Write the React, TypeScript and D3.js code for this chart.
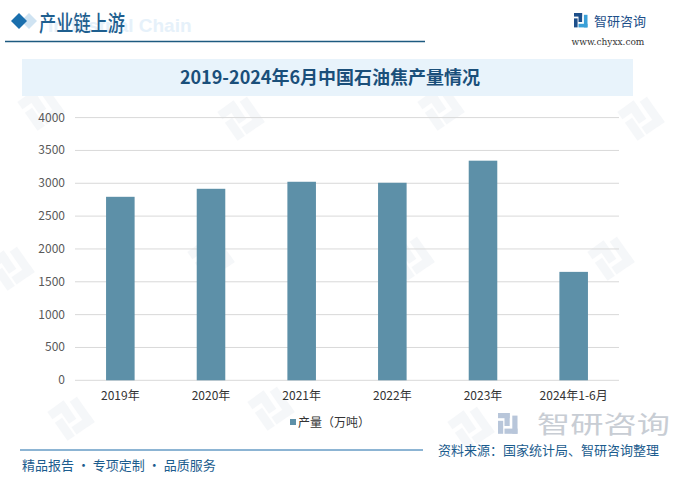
import React from "react";
import * as d3 from "d3";

const categories = ["2019年", "2020年", "2021年", "2022年", "2023年", "2024年1-6月"];
const production = [2794, 2916, 3023, 3008, 3344, 1651];
const yTicks = [0, 500, 1000, 1500, 2000, 2500, 3000, 3500, 4000];
const seriesName = "产量（万吨）";
const titleText = "2019-2024年6月中国石油焦产量情况";
const headerText = "产业链上游";
const sourceText = "资料来源：国家统计局、智研咨询整理";
const sloganText = "精品报告 · 专项定制 · 品质服务";

const W = 690;
const H = 479;
const BAR = "#5d90a8";
const BLUE = "#1b5c8e";
const FONT = "'Noto Sans CJK SC', 'Noto Sans', sans-serif";

function Logo({ x, y, s, color1, color2 }: { x: number; y: number; s: number; color1: string; color2: string }) {
  return (
    <g transform={`translate(${x},${y}) scale(${s})`}>
      <rect x={0} y={0} width={9} height={4} fill={color1} />
      <rect x={5} y={0} width={4} height={10} fill={color1} />
      <rect x={0} y={6} width={4} height={10} fill={color1} />
      <rect x={11} y={2} width={4} height={14} fill={color2} />
      <rect x={5} y={12} width={10} height={4} fill={color2} />
    </g>
  );
}

export default function App() {
  const margin = { left: 75, right: 619, top: 117.6, bottom: 380.3 };
  const x = d3.scaleBand<string>().domain(categories).range([margin.left, margin.right]).padding(0);
  const y = d3.scaleLinear().domain([0, 4000]).range([margin.bottom, margin.top]);
  const bw = x.bandwidth() * 0.315;

  const watermarks = [
    [30, 120], [230, 130], [430, 120], [630, 130],
    [0, 280], [200, 270], [400, 270], [600, 270],
    [60, 430], [260, 420], [460, 440],
  ];

  return (
    <svg width={W} height={H} style={{ position: "absolute", left: 0, top: 0, background: "#fff" }} fontFamily={FONT}>
      <rect x={0} y={0} width={W} height={H} fill="#fff" />
      {/* faint watermarks (icon only) */}
      {watermarks.map(([wx, wy], i) => (
        <g key={i} transform={`translate(${wx},${wy}) rotate(-35)`} opacity={0.05}>
          <Logo x={0} y={-22} s={2.2} color1="#4a6f98" color2="#4a6f98" />
        </g>
      ))}

      {/* header */}
      <path d="M20,13 L28,21 L20,29 L12,21 Z" fill="#cfe3f2" transform="translate(9,0)" />
      <path d="M19,13 L27,21 L19,29 L11,21 Z" fill="#1a6fad" />
      <text x={48} y={32} fontSize={19} fontWeight="bold" fill="#e6f1fa" fontFamily="'Liberation Sans', sans-serif">Industrial Chain</text>
      <text x={39} y={31} fontSize={22} fontWeight={500} fill="#1f5f8f" textLength={86} lengthAdjust="spacingAndGlyphs">{headerText}</text>
      <line x1={5} x2={425} y1={41.5} y2={41.5} stroke="#1d5a80" strokeWidth={1.5} />
      <Logo x={574} y={13} s={0.9} color1="#1d4f8a" color2="#3aa0d8" />
      <text x={594} y={26} fontSize={13} fill="#1d4f8a">智研咨询</text>
      <text x={608} y={45} fontSize={9} fill="#333" textAnchor="middle" fontFamily="'DejaVu Serif', serif">www.chyxx.com</text>

      {/* title box */}
      <rect x={22} y={59} width={611} height={37} fill="#e8f3fb" />
      <text x={330} y={84} fontSize={18} fontWeight="bold" fill="#1a4f7a" textAnchor="middle">{titleText}</text>

      {/* grid */}
      {yTicks.map((t) => (
        <g key={t}>
          <line x1={margin.left} x2={margin.right} y1={y(t)} y2={y(t)} stroke="#d9d9d9" strokeWidth={1} />
          <text x={65} y={y(t) + 4} fontSize={12} fill="#595959" textAnchor="end">{t}</text>
        </g>
      ))}

      {/* bars */}
      {categories.map((c, i) => (
        <rect
          key={c}
          x={(x(c) as number) + x.bandwidth() / 2 - bw / 2}
          y={y(production[i])}
          width={bw}
          height={y(0) - y(production[i])}
          fill={BAR}
        />
      ))}

      {/* x labels */}
      {categories.map((c) => (
        <text key={c} x={(x(c) as number) + x.bandwidth() / 2} y={400} fontSize={12} fill="#333" textAnchor="middle">{c}</text>
      ))}

      {/* legend */}
      <rect x={290} y={419} width={6} height={6} fill={BAR} />
      <text x={298} y={427} fontSize={12} fill="#333">{seriesName}</text>

      {/* big logo bottom right */}
      <Logo x={498} y={413} s={1.3} color1="#b8c6da" color2="#b8c6da" />
      <text x={537} y={433} fontSize={24} fill="#c8cdd4" textLength={133} lengthAdjust="spacingAndGlyphs">智研咨询</text>

      {/* footer */}
      <line x1={20} x2={423} y1={450} y2={450} stroke="#1a6aa8" strokeWidth={1} />
      <text x={438} y={455} fontSize={13} fill={BLUE}>{sourceText}</text>
      <text x={22} y={470} fontSize={13} fill={BLUE}>{sloganText}</text>
    </svg>
  );
}
